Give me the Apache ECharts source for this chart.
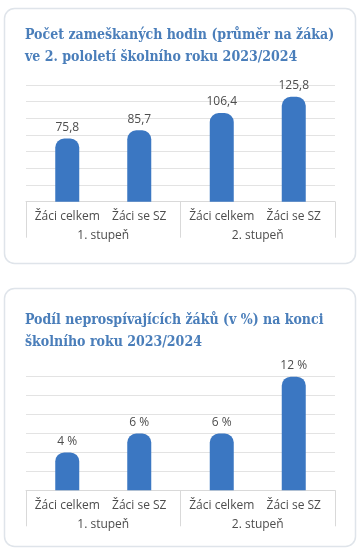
<!DOCTYPE html>
<html>
<head>
<meta charset="utf-8">
<script src="https://cdn.jsdelivr.net/npm/echarts@6/dist/echarts.min.js"></script>
<style>
html,body{margin:0;padding:0;background:#fff;}
#c{width:360px;height:554px;}
</style>
</head>
<body>
<div id="c"></div>
<script>
const groups = ['1. stupeň', '2. stupeň'];
const subCats = ['Žáci celkem', 'Žáci se SZ'];
const title1 = 'Počet zameškaných hodin (průměr na žáka)\nve 2. pololetí školního roku 2023/2024';
const title2 = 'Podíl neprospívajících žáků (v %) na konci\nškolního roku 2023/2024';
const hoursCelkem = [75.8, 106.4];
const hoursSZ = [85.7, 125.8];
const failCelkem = [4, 6];
const failSZ = [6, 12];
const zeros = [0, 0];

const BLUE = '#3b77c2';
const TXT = '#4d4d4d';
const SANS = 'Open Sans';
const SERIF = '"DejaVu Serif Condensed", "DejaVu Serif"';

function xAx(gi) {
  return {
    type: 'category', gridIndex: gi, data: groups,
    axisLine: { lineStyle: { color: '#d9d9d9', width: 1 } },
    axisTick: { show: true, length: 36, interval: 0, alignWithLabel: false, lineStyle: { color: '#d9d9d9' } },
    axisLabel: { color: TXT, fontFamily: SANS, fontSize: 12, margin: 28 }
  };
}
function yAx(gi, max, interval) {
  return {
    type: 'value', gridIndex: gi, min: 0, max: max, interval: interval,
    axisLabel: { show: false }, axisLine: { show: false }, axisTick: { show: false },
    splitLine: { lineStyle: { color: '#e3e3e3', width: 1 } }
  };
}
function baseSeries(gi, name, stack) {
  return {
    type: 'bar', xAxisIndex: gi, yAxisIndex: gi, stack: stack, name: name,
    data: zeros, barWidth: 24, barGap: '200%', silent: true,
    itemStyle: { color: 'transparent' },
    label: { show: true, position: 'bottom', distance: 9, formatter: () => name,
      color: TXT, fontFamily: SANS, fontSize: 12 }
  };
}
function valSeries(gi, name, stack, data, fmt) {
  return {
    type: 'bar', xAxisIndex: gi, yAxisIndex: gi, stack: stack, name: name,
    data: data, barWidth: 24, barGap: '200%',
    itemStyle: { color: BLUE, borderRadius: [9, 9, 0, 0] },
    label: { show: true, position: 'top', distance: 5, formatter: fmt,
      color: TXT, fontFamily: SANS, fontSize: 12 }
  };
}
const fmtDec = p => p.value.toFixed(1).replace('.', ',');
const fmtPct = p => p.value + ' %';

const chart = echarts.init(document.getElementById('c'), null, { renderer: 'canvas' });
chart.setOption({
  animation: false,
  backgroundColor: '#fff',
  graphic: [
    { type: 'rect', z: -10, shape: { x: 4.5, y: 8.5, width: 351, height: 255, r: 10 },
      style: { fill: '#fff', stroke: '#dfe4ea', lineWidth: 1.5 } },
    { type: 'rect', z: -10, shape: { x: 4.5, y: 288.5, width: 351, height: 258, r: 10 },
      style: { fill: '#fff', stroke: '#dfe4ea', lineWidth: 1.5 } }
  ],
  title: [
    { text: title1, left: 25, top: 25, padding: 0,
      textStyle: { color: '#4a7eba', fontFamily: SERIF, fontWeight: 'bold', fontSize: 14, lineHeight: 21.5 } },
    { text: title2, left: 25, top: 310, padding: 0,
      textStyle: { color: '#4a7eba', fontFamily: SERIF, fontWeight: 'bold', fontSize: 14, lineHeight: 21.5 } }
  ],
  grid: [
    { left: 26, width: 309, top: 85, height: 116.7 },
    { left: 26, width: 309, top: 376.7, height: 113.6 }
  ],
  xAxis: [xAx(0), xAx(1)],
  yAxis: [yAx(0, 140, 20), yAx(1, 12, 2)],
  series: [
    baseSeries(0, subCats[0], 'g1a'),
    valSeries(0, subCats[0], 'g1a', hoursCelkem, fmtDec),
    baseSeries(0, subCats[1], 'g1b'),
    valSeries(0, subCats[1], 'g1b', hoursSZ, fmtDec),
    baseSeries(1, subCats[0], 'g2a'),
    valSeries(1, subCats[0], 'g2a', failCelkem, fmtPct),
    baseSeries(1, subCats[1], 'g2b'),
    valSeries(1, subCats[1], 'g2b', failSZ, fmtPct)
  ]
});
</script>
</body>
</html>
